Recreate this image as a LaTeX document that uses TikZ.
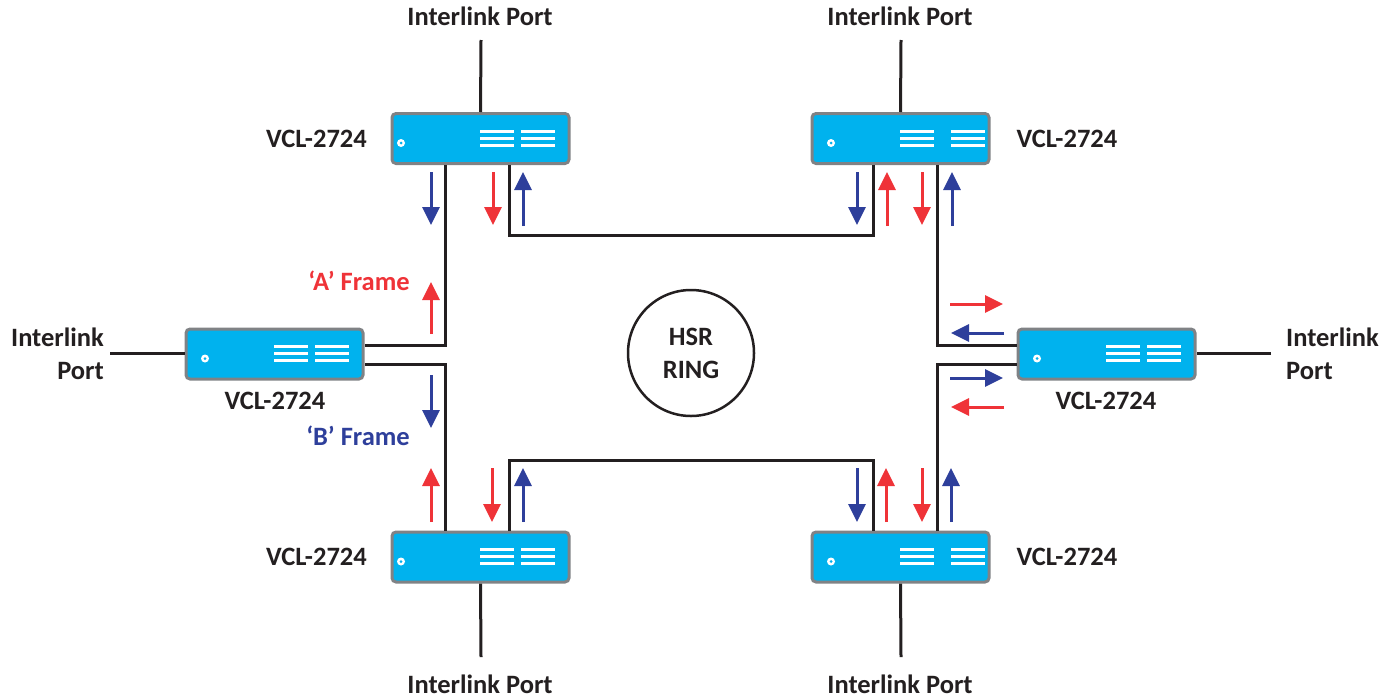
\documentclass[tikz,border=0pt]{standalone}
\usepackage{fontspec}
\setmainfont{Carlito}
\usetikzlibrary{arrows.meta}
\definecolor{cblue}{HTML}{2E3F9B}
\definecolor{cred}{HTML}{EF3338}
\definecolor{ccyan}{HTML}{00B2EE}
\definecolor{cgrey}{HTML}{808285}
\definecolor{cdark}{HTML}{231F20}
\tikzset{
  device/.style={draw=cgrey,line width=3pt,fill=ccyan,rounded corners=4pt,minimum width=177pt,minimum height=50pt,inner sep=0pt},
  link/.style={draw=cdark,line width=3pt},
  lbl/.style={font=\fontsize{26.5}{31}\selectfont\bfseries,text=cdark,align=center,inner sep=0pt},
  flow/.style={line width=3pt,-{Triangle[length=18pt,width=17pt]}},
  bar/.style={draw=white,line width=3pt},
}
% name, centre x, centre y, dot offset, first bar offset, second bar offset (from left edge)
\newcommand{\dev}[6]{%
  \node[device] (#1) at (#2,#3) {};
  \fill[white] (#2-88.5+#4,#3+4.5) circle (4pt);
  \fill[ccyan] (#2-88.5+#4,#3+4.5) circle (1.5pt);
  \foreach \yy in {-7.5,-0.5,6.5}{
    \draw[bar] (#2-88.5+#5,#3+\yy) -- ++(34,0);
    \draw[bar] (#2-88.5+#6,#3+\yy) -- ++(34,0);
  }}
\newcommand{\flowarrow}[5]{% name colour x1 y1 / x2 y2
  \coordinate (#1s) at (#3);
  \coordinate (#1e) at (#4);
  \draw[flow,draw=#2,fill=#2,#5] (#1s) -- (#1e);}
\begin{document}
\begin{tikzpicture}[x=1pt,y=-1pt]
\useasboundingbox (0,0) rectangle (1396,699);
% connectors first
\coordinate (c1) at (445.5,345);
\coordinate (c2) at (445.5,364);
\coordinate (c3) at (937,345);
\coordinate (c4) at (937,364);
\coordinate (c5) at (509,235);
\coordinate (c6) at (873,235);
\coordinate (c7) at (509,460);
\coordinate (c8) at (873,460);
\coordinate (ip1) at (481,40);
\coordinate (ip2) at (901,40);
\coordinate (ip3) at (481,657);
\coordinate (ip4) at (901,657);
\coordinate (ip5) at (110,353);
\coordinate (ip6) at (1271,353);

\dev{tl}{480.5}{138.5}{9}{88}{129}
\dev{tr}{900.5}{138.5}{19}{88}{139}
\dev{ml}{274.5}{354}{19}{88}{129}
\dev{mr}{1106.5}{354}{19}{88}{129}
\dev{bl}{480.5}{557}{9}{88}{129}
\dev{br}{900.5}{557}{19}{88}{139}

\draw[link] (ip1) -- (tl.north);
\draw[link] (ip2) -- (tr.north);
\draw[link] (ip3) -- (bl.south);
\draw[link] (ip4) -- (br.south);
\draw[link] (ip5) -- (ml.west |- ip5);
\draw[link] (ip6) -- (mr.east |- ip6);
\draw[link] (tl.south -| c1) -- (c1) -- (ml.east |- c1);
\draw[link] (bl.north -| c2) -- (c2) -- (ml.east |- c2);
\draw[link] (tr.south -| c3) -- (c3) -- (mr.west |- c3);
\draw[link] (br.north -| c4) -- (c4) -- (mr.west |- c4);
\draw[link] (tl.south -| c5) -- (c5) -- (c6) -- (tr.south -| c6);
\draw[link] (bl.north -| c7) -- (c7) -- (c8) -- (br.north -| c8);

% flows
\flowarrow{a1}{cblue}{431,172}{431,225}{}
\flowarrow{a2}{cred}{493,172}{493,225}{}
\flowarrow{a3}{cblue}{523,226}{523,172}{}
\flowarrow{a4}{cblue}{857,172}{857,225}{}
\flowarrow{a5}{cred}{887,226}{887,172}{}
\flowarrow{a6}{cred}{922,172}{922,225}{}
\flowarrow{a7}{cblue}{952,226}{952,172}{}
\flowarrow{a8}{cred}{431,334}{431,282}{}
\flowarrow{a9}{cblue}{431,375}{431,428}{}
\flowarrow{b1}{cred}{431,522}{431,468}{}
\flowarrow{b2}{cred}{492,468}{492,522}{}
\flowarrow{b3}{cblue}{523,522}{523,468}{}
\flowarrow{b4}{cblue}{857,468}{857,522}{}
\flowarrow{b5}{cred}{886,522}{886,468}{}
\flowarrow{b6}{cred}{922,468}{922,522}{}
\flowarrow{b7}{cblue}{951,522}{951,468}{}
\flowarrow{b8}{cred}{950,304}{1003,304}{}
\flowarrow{b9}{cblue}{1004,333}{951,333}{}
\flowarrow{d1}{cblue}{950,378}{1003,378}{}
\flowarrow{d2}{cred}{1004,407}{951,407}{}

% ring
\node[draw=cdark,line width=2.5pt,circle,minimum size=126pt,inner sep=0pt,lbl] (ring) at (691,353) {HSR\\[2pt]RING};

% labels
\node[lbl] (l1) at (480,16) {Interlink Port};
\node[lbl] (l2) at (900,16) {Interlink Port};
\node[lbl] (l3) at (480,684) {Interlink Port};
\node[lbl] (l4) at (900,684) {Interlink Port};
\node[lbl,align=right,anchor=east] (l5) at (104,354) {Interlink\\[2pt]Port};
\node[lbl,align=left,anchor=west] (l6) at (1286,354) {Interlink\\[2pt]Port};
\node[lbl] (v1) at (316.5,139) {VCL-2724};
\node[lbl] (v2) at (1067,139) {VCL-2724};
\node[lbl] (v3) at (275,401) {VCL-2724};
\node[lbl] (v4) at (1106,401) {VCL-2724};
\node[lbl] (v5) at (316.5,557) {VCL-2724};
\node[lbl] (v6) at (1067,557) {VCL-2724};
\node[lbl,text=cred] (fa) at (359,281) {‘A’ Frame};
\node[lbl,text=cblue] (fb) at (358,436) {‘B’ Frame};
\end{tikzpicture}
\end{document}
